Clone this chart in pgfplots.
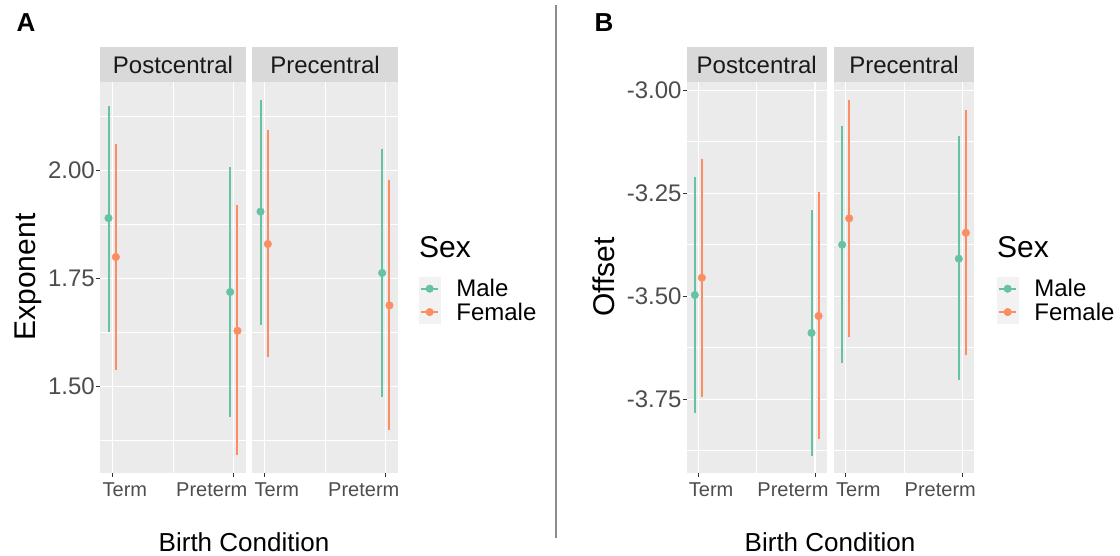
\documentclass[border=0pt]{standalone}
\usepackage{fontspec}
\setmainfont{Liberation Sans}
\usepackage{pgfplots}
\usepackage{pgfplotstable}
\pgfplotsset{compat=1.18}
\definecolor{male}{HTML}{66C2A5}
\definecolor{female}{HTML}{FC8D62}
\definecolor{panelbg}{HTML}{EBEBEB}
\definecolor{stripbg}{HTML}{D9D9D9}
\definecolor{keybg}{HTML}{F2F2F2}
\definecolor{ticklab}{HTML}{4D4D4D}
\definecolor{tickcol}{HTML}{333333}
\definecolor{divider}{HTML}{8C8C8C}

\newcommand{\fs}[1]{\fontsize{#1}{#1}\selectfont}

\pgfplotsset{
  facet/.style={
    scale only axis, height=391pt,
    xmin=0.9, xmax=2.1, xtick={1,2}, minor xtick={1.5},
    xticklabels={\makebox[0pt][l]{\hspace*{-9.5pt}Term},\makebox[0pt][r]{Preterm\hspace*{-13.5pt}}},
    grid=both, axis background/.style={fill=panelbg},
    axis line style={draw=none},
    tick align=outside, xtick pos=bottom, ytick pos=left,
    major tick length=4pt, minor tick length=0pt,
    tick style={tickcol, line width=0.9pt},
    major grid style={white, line width=1.3pt},
    minor grid style={white, line width=0.65pt},
    xticklabel style={font=\fs{20}, text=ticklab, inner sep=0pt},
    yticklabel style={font=\fs{24}, text=ticklab, inner sep=1pt},
    x tick label style={yshift=-6pt},
  },
  nolabels/.style={yticklabels={}, ytick style={draw=none}},
  sexlegend/.style={
    legend cell align=left,
    legend style={draw=none, fill=none, inner sep=0pt, outer sep=0pt,
      at={(axis description cs:1,0)}, anchor=north west,
      row sep=0pt, column sep=16pt,
      nodes={font=\fs{24}, text height=19.5pt, text depth=3.5pt, inner sep=0pt, anchor=base west}},
    legend image code/.code={
      \fill[keybg] (0pt,-3.5pt) rectangle (21pt,19.5pt);
      \draw[line width=2pt] (2pt,8pt) -- (19pt,8pt);
      \fill (10.5pt,8pt) circle (3.8pt);
    },
  },
  pr/.style={only marks, mark=*, mark size=3.8pt, color=#1,
    error bars/.cd, y dir=both, y explicit, error mark=none,
    error bar style={line width=2pt, #1}},
}

\pgfplotstableread{
x y lo hi
1 1.890 1.627 2.150
2 1.719 1.430 2.008
}\aPostMale
\pgfplotstableread{
x y lo hi
1 1.800 1.539 2.061
2 1.629 1.342 1.920
}\aPostFemale
\pgfplotstableread{
x y lo hi
1 1.905 1.643 2.164
2 1.763 1.475 2.050
}\aPreMale
\pgfplotstableread{
x y lo hi
1 1.830 1.568 2.093
2 1.688 1.400 1.978
}\aPreFemale
\pgfplotstableread{
x y lo hi
1 -3.497 -3.783 -3.210
2 -3.589 -3.888 -3.290
}\bPostMale
\pgfplotstableread{
x y lo hi
1 -3.455 -3.745 -3.167
2 -3.548 -3.846 -3.248
}\bPostFemale
\pgfplotstableread{
x y lo hi
1 -3.375 -3.663 -3.087
2 -3.409 -3.703 -3.111
}\bPreMale
\pgfplotstableread{
x y lo hi
1 -3.311 -3.599 -3.024
2 -3.346 -3.643 -3.048
}\bPreFemale

\newcommand{\plotsex}[3]{%
  \addplot[pr=#1] table[x expr=\thisrow{x}#3, y=y,
    y error plus expr=\thisrow{hi}-\thisrow{y},
    y error minus expr=\thisrow{y}-\thisrow{lo}] {#2};}

\begin{document}
\begin{tikzpicture}
\useasboundingbox (0,0) rectangle (1120pt,-556pt);

% ---- panel A ----
\pgfplotsset{aY/.style={ymin=1.30, ymax=2.205, ytick={1.5,1.75,2},
  yticklabels={1.50,1.75,2.00}, minor ytick={1.375,1.625,1.875,2.125}}}
\begin{axis}[facet, aY, width=146pt, at={(100pt,-473pt)}, anchor=south west]
\plotsex{male}{\aPostMale}{-0.03}
\plotsex{female}{\aPostFemale}{+0.03}
\end{axis}
\begin{axis}[facet, aY, nolabels, sexlegend, width=146pt, at={(252pt,-473pt)}, anchor=south west,
  legend style={xshift=21pt, yshift=196pt}]
\plotsex{male}{\aPreMale}{-0.03}
\addlegendentry{Male}
\plotsex{female}{\aPreFemale}{+0.03}
\addlegendentry{Female}
\end{axis}

% ---- panel B ----
\pgfplotsset{bY/.style={ymin=-3.929, ymax=-2.98, ytick={-3.75,-3.5,-3.25,-3},
  yticklabels={-3.75,-3.50,-3.25,-3.00}, minor ytick={-3.875,-3.625,-3.375,-3.125}}}
\begin{axis}[facet, bY, width=140pt, at={(686.7pt,-473pt)}, anchor=south west]
\plotsex{male}{\bPostMale}{-0.03}
\plotsex{female}{\bPostFemale}{+0.03}
\end{axis}
\begin{axis}[facet, bY, nolabels, sexlegend, width=140pt, at={(834pt,-473pt)}, anchor=south west,
  legend style={xshift=23pt, yshift=196pt}]
\plotsex{male}{\bPreMale}{-0.03}
\addlegendentry{Male}
\plotsex{female}{\bPreFemale}{+0.03}
\addlegendentry{Female}
\end{axis}

% facet strips
\foreach \xa/\xb/\lab in {100/246/Postcentral, 252/398/Precentral, 686.7/826.7/Postcentral, 834/974/Precentral}{
  \fill[stripbg] (\xa pt,-47pt) rectangle (\xb pt,-82pt);
  \node[font=\fs{24}, text=black!90, inner sep=0pt] at ({(\xa+\xb)/2*1pt},-64.5pt) {\lab};
}

% titles and labels
\node[font=\bfseries\fs{26}, inner sep=0pt] at (26pt,-23pt) {A};
\node[font=\bfseries\fs{26}, inner sep=0pt] at (604pt,-23pt) {B};
\draw[divider, line width=1.5pt] (556pt,-5pt) -- (556pt,-538pt);
\node[font=\fs{30}, rotate=90, inner sep=0pt] at (28pt,-277pt) {Exponent};
\node[font=\fs{30}, rotate=90, inner sep=0pt] at (604pt,-277pt) {Offset};
\node[font=\fs{26}, inner sep=0pt] at (244pt,-542pt) {Birth Condition};
\node[font=\fs{26}, inner sep=0pt] at (830pt,-542pt) {Birth Condition};
\node[font=\fs{30}, inner sep=0pt, anchor=base west] at (419pt,-258pt) {Sex};
\node[font=\fs{30}, inner sep=0pt, anchor=base west] at (997pt,-258pt) {Sex};
\end{tikzpicture}
\end{document}
